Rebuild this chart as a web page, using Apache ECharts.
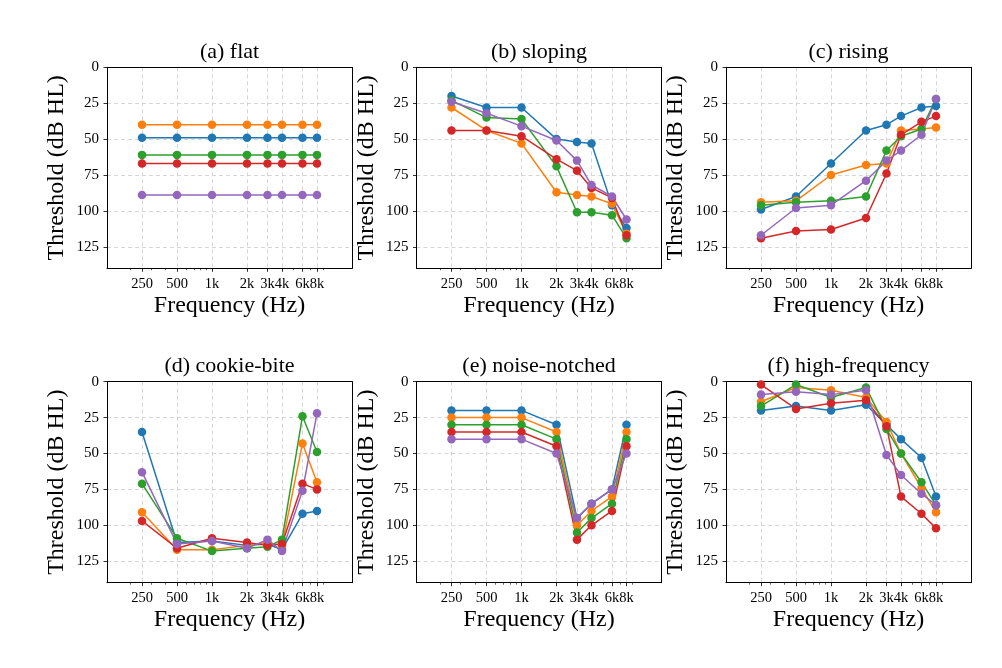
<!DOCTYPE html>
<html>
<head>
<meta charset="utf-8">
<script src="https://cdn.jsdelivr.net/npm/echarts@6/dist/echarts.min.js"></script>
<style>
html, body { margin: 0; padding: 0; background: #fff; }
#chart { width: 1002px; height: 668px; }
</style>
</head>
<body>
<div id="chart"></div>
<script>
// audiogram frequencies (Hz) and tick labels
var freqs = [250, 500, 1000, 2000, 3000, 4000, 6000, 8000];
var freqLabels = ['250', '500', '1k', '2k', '3k', '4k', '6k', '8k'];
var minorFreqs = [200, 300, 400, 600, 700, 800, 900, 5000, 7000, 9000];
var yTicks = [0, 25, 50, 75, 100, 125];

var titles = ['(a) flat', '(b) sloping', '(c) rising', '(d) cookie-bite', '(e) noise-notched', '(f) high-frequency'];
var colors = ['#1f77b4', '#ff7f0e', '#2ca02c', '#d62728', '#9467bd'];

// thresholds (dB HL), one row per audiogram: blue, orange, green, red, purple
var flat = [
    [49, 49, 49, 49, 49, 49, 49, 49],
    [40, 40, 40, 40, 40, 40, 40, 40],
    [61, 61, 61, 61, 61, 61, 61, 61],
    [67, 67, 67, 67, 67, 67, 67, 67],
    [89, 89, 89, 89, 89, 89, 89, 89]
];
var sloping = [
    [20, 28, 28, 50, 52, 53, 96, 112],
    [28, 44, 53, 87, 89, 90, 95, 116],
    [23, 35, 36, 69, 101, 101, 103, 119],
    [44, 44, 48, 64, 72, 84, 91, 117],
    [24, 32, 41, 51, 65, 82, 90, 106]
];
var rising = [
    [99, 90, 67, 44, 40, 34, 28, 27],
    [94, 93, 75, 68, 67, 44, 43, 42],
    [96, 94, 93, 90, 58, 48, 43, 22],
    [119, 114, 113, 105, 74, 47, 38, 34],
    [117, 98, 96, 79, 65, 58, 47, 22]
];
var cookieBite = [
    [35, 112, 111, 114, 113, 117, 92, 90],
    [91, 117, 117, 114, 112, 114, 43, 70],
    [71, 109, 118, 116, 115, 110, 24, 49],
    [97, 116, 109, 112, 114, 113, 71, 75],
    [63, 113, 111, 116, 110, 118, 76, 22]
];
var noiseNotched = [
    [20, 20, 20, 30, 95, 85, 75, 30],
    [25, 25, 25, 35, 100, 90, 80, 35],
    [30, 30, 30, 40, 105, 95, 85, 40],
    [35, 35, 35, 45, 110, 100, 90, 45],
    [40, 40, 40, 50, 95, 85, 75, 50]
];
var highFreq = [
    [20, 17, 20, 16, 30, 40, 53, 80],
    [14, 4, 6, 11, 28, 50, 74, 91],
    [17, 2, 11, 4, 33, 50, 70, 86],
    [2, 19, 15, 13, 31, 80, 92, 102],
    [9, 7, 9, 6, 51, 65, 78, 86]
];
var panels = [flat, sloping, rising, cookieBite, noiseNotched, highFreq];

var serif = '"Liberation Serif", "DejaVu Serif", serif';
var lefts = [107, 416.5, 726];
var tops = [67.3, 381.7];
var gw = 245, gh = 201;

var gridDash = { color: '#cccccc', width: 0.8, type: [4, 3] };
var spine = { color: '#000', width: 1 };

var option = {
    animation: false,
    backgroundColor: '#fff',
    title: [],
    grid: [],
    xAxis: [],
    yAxis: [],
    series: []
};

panels.forEach(function (rows, i) {
    var col = i % 3, row = Math.floor(i / 3);
    var left = lefts[col], top = tops[row];

    option.title.push({
        text: titles[i],
        left: left + gw / 2,
        top: top - 26.5,
        textAlign: 'center',
        padding: 0,
        textStyle: { fontFamily: serif, fontSize: 22, fontWeight: 'normal', color: '#000' }
    });

    option.grid.push({ left: left, top: top, width: gw, height: gh });

    option.xAxis.push({
        type: 'log', logBase: 2, gridIndex: i, min: 125, max: 16000,
        position: 'bottom',
        name: 'Frequency (Hz)', nameLocation: 'middle', nameGap: 25,
        nameTextStyle: { fontFamily: serif, fontSize: 24, color: '#000' },
        axisLine: { onZero: false, lineStyle: spine },
        axisTick: { customValues: freqs, length: 3.5, lineStyle: { color: '#000', width: 0.8 } },
        axisLabel: {
            customValues: freqs, margin: 8, interval: 0,
            showMinLabel: true, showMaxLabel: true, hideOverlap: false,
            fontFamily: serif, fontSize: 14.5, color: '#000',
            formatter: function (v) {
                var k = freqs.indexOf(Math.round(v));
                return k >= 0 ? freqLabels[k] : '';
            }
        },
        splitLine: { show: true, lineStyle: gridDash }
    });
    // minor ticks
    option.xAxis.push({
        type: 'log', logBase: 2, gridIndex: i, min: 125, max: 16000,
        position: 'bottom',
        axisLine: { show: false, onZero: false },
        axisTick: { customValues: minorFreqs, length: 2, lineStyle: { color: '#000', width: 0.6 } },
        axisLabel: { show: false },
        splitLine: { show: false }
    });
    // top spine
    option.xAxis.push({
        type: 'log', logBase: 2, gridIndex: i, min: 125, max: 16000,
        position: 'top',
        axisLine: { show: true, onZero: false, lineStyle: spine },
        axisTick: { show: false },
        axisLabel: { show: false },
        splitLine: { show: false }
    });

    option.yAxis.push({
        type: 'value', gridIndex: i, inverse: true, min: 0, max: 140, interval: 25,
        position: 'left',
        name: 'Threshold (dB HL)', nameLocation: 'middle', nameGap: 38, nameRotate: 90,
        nameTextStyle: { fontFamily: serif, fontSize: 24, color: '#000' },
        axisLine: { show: true, onZero: false, lineStyle: spine },
        axisTick: { show: true, customValues: yTicks, length: 3.5, lineStyle: { color: '#000', width: 0.8 } },
        axisLabel: { customValues: yTicks, margin: 8, fontFamily: serif, fontSize: 15, color: '#000' },
        splitLine: { show: true, lineStyle: gridDash }
    });
    // right spine
    option.yAxis.push({
        type: 'value', gridIndex: i, inverse: true, min: 0, max: 140,
        position: 'right',
        axisLine: { show: true, onZero: false, lineStyle: spine },
        axisTick: { show: false },
        axisLabel: { show: false },
        splitLine: { show: false }
    });

    rows.forEach(function (vals, s) {
        option.series.push({
            type: 'line',
            xAxisIndex: i * 3,
            yAxisIndex: i * 2,
            data: freqs.map(function (f, j) { return [f, vals[j]]; }),
            symbol: 'circle',
            symbolSize: 8.5,
            color: colors[s],
            lineStyle: { width: 1.5, color: colors[s] },
            itemStyle: { color: colors[s] },
            emphasis: { disabled: true },
            silent: true
        });
    });
});

var chart = echarts.init(document.getElementById('chart'), null, { renderer: 'canvas' });
chart.setOption(option);
</script>
</body>
</html>
